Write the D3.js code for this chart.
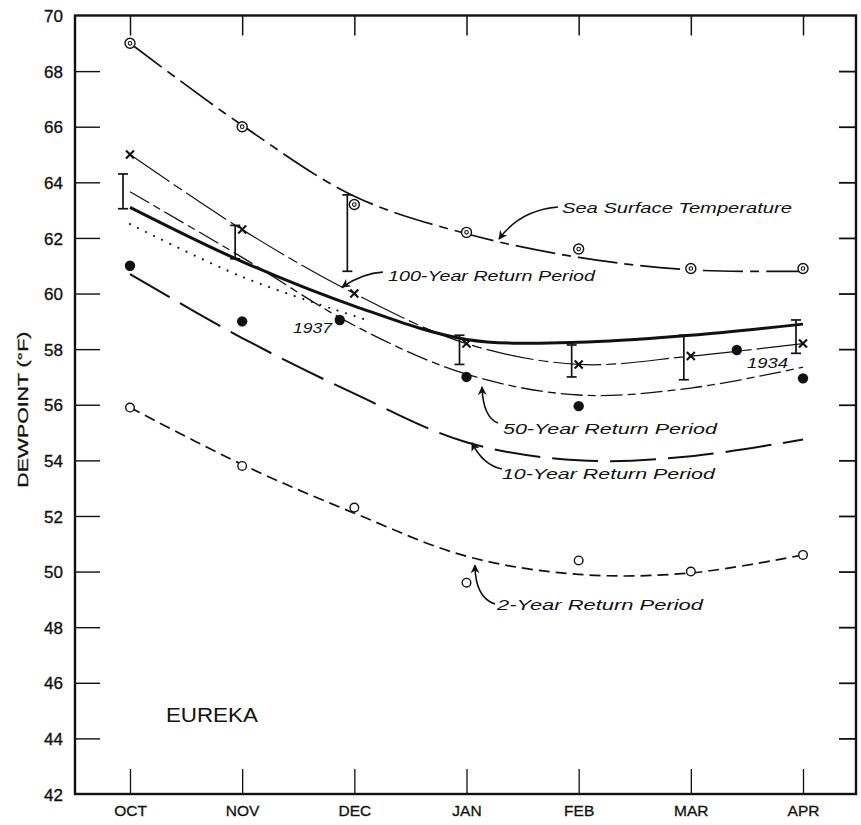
<!DOCTYPE html>
<html>
<head>
<meta charset="utf-8">
<script src="https://cdn.jsdelivr.net/npm/d3@7"></script>
<style>
  html, body { margin: 0; padding: 0; background: #fff; }
  svg { display: block; }
  .tick text { font-family: "Liberation Sans", Arial, sans-serif; fill: #111; }
</style>
</head>
<body>
<svg id="chart" width="861" height="825"></svg>
<script>
// ---------------- DATA ----------------
const months = ["OCT", "NOV", "DEC", "JAN", "FEB", "MAR", "APR"];
const yTicks = [42, 44, 46, 48, 50, 52, 54, 56, 58, 60, 62, 64, 66, 68, 70];

// Sea surface temperature: smoothed curve and observed values
const sstCurve = [69.0, 66.05, 63.5, 62.15, 61.3, 60.85, 60.8];
const sstObs   = [69.0, 66.0, 63.2, 62.2, 61.6, 60.9, 60.9];

// Return period curves
const rp100 = [63.1, 61.15, 59.55, 58.35, 58.25, 58.5, 58.9];
const rp50  = [63.66, 61.3, 58.85, 57.1, 56.35, 56.6, 57.35];
const rp10  = [60.7, 58.4, 56.4, 54.65, 54.0, 54.15, 54.75];
const rp2   = [55.9, 53.85, 52.1, 50.55, 49.9, 49.95, 50.6];

// Observed 2-year (open circles)
const obs2 = [55.9, 53.8, 52.3, 49.6, 50.4, 50.0, 50.6];

// Maximum observed (x markers)
const maxObs = [65.0, 62.3, 60.0, 58.2, 57.45, 57.75, 58.2];

// Range bars
const rangeLow  = [63.05, 61.25, 60.8, 57.45, 57.0, 56.9, 57.85];
const rangeHigh = [64.3, 62.45, 63.55, 58.5, 58.15, 58.5, 59.05];

// Filled circles (month index, value)
const filledIdx = [0, 1, 1.87, 3, 4, 5.41, 6];
const filledVal = [61.0, 59.0, 59.05, 57.0, 55.95, 57.97, 56.95];

// Dotted line (month index, value)
const dottedIdx = [0, 1, 2.11];
const dottedVal = [62.5, 60.6, 59.05];

// Text annotations
const labelTexts = ["Sea Surface Temperature", "100-Year Return Period", "50-Year Return Period",
                    "10-Year Return Period", "2-Year Return Period", "1937", "1934"];
const stationName = "EUREKA";
const yTitle = "DEWPOINT (°F)";

// ---------------- LAYOUT ----------------
const svg = d3.select("#chart");
const L = 75, R = 856, T = 15.5, B = 794;
const x = d3.scaleLinear().domain([0, 6]).range([130, 803]);
const y = d3.scaleLinear().domain([42, 70]).range([B, T]);

// label anchors in data coordinates [month index, value], arrow [start, control, tip]
const labelLayout = [
  { at: [3.851, 62.90], w: 230, arrow: [[3.816, 63.11], [3.477, 63.0], [3.290, 61.96]] },
  { at: [2.300, 60.45], w: 207, arrow: [[2.255, 60.77], [2.077, 60.74], [1.890, 60.23]] },
  { at: [3.325, 54.95], w: 214, arrow: [[3.281, 55.34], [3.147, 55.56], [3.138, 56.64]] },
  { at: [3.316, 53.33], w: 213, arrow: [[3.316, 53.69], [3.147, 53.83], [3.049, 54.63]] },
  { at: [3.272, 48.60], w: 206, arrow: [[3.254, 48.83], [3.076, 49.08], [3.076, 50.23]] },
  { at: [1.453, 58.58], w: 39, arrow: null },
  { at: [5.501, 57.32], w: 41, arrow: null }
];
const stationAt = [0.32, 44.6];

// ---------------- AXES ----------------
const fmtMonth = i => months[i];
const gLeft = svg.append("g").attr("transform", `translate(${L},0)`)
  .call(d3.axisLeft(y).tickValues(yTicks).tickSize(-25).tickPadding(12).tickFormat(d3.format("d")));
gLeft.select(".domain").remove();
gLeft.selectAll(".tick text").style("font-size", "17px").attr("dy", "0.36em")
  .attr("stroke", "#111").attr("stroke-width", 0.35);
gLeft.selectAll(".tick line").attr("stroke", "#111").attr("stroke-width", 1.4)
  .filter(d => d === 42 || d === 70).remove();

const gRight = svg.append("g").attr("transform", `translate(${R},0)`)
  .call(d3.axisRight(y).tickValues(yTicks.filter(d => d !== 42 && d !== 70)).tickSize(-17).tickFormat(""));
gRight.select(".domain").remove();
gRight.selectAll(".tick line").attr("stroke", "#111").attr("stroke-width", 1.8);

const gBottom = svg.append("g").attr("transform", `translate(0,${B})`)
  .call(d3.axisBottom(x).tickValues(d3.range(months.length)).tickSize(-25).tickPadding(11).tickFormat(fmtMonth));
gBottom.select(".domain").remove();
gBottom.selectAll(".tick text").style("font-size", "15.5px").attr("dy", "0.71em")
  .attr("stroke", "#111").attr("stroke-width", 0.3);
gBottom.selectAll(".tick line").attr("stroke", "#111").attr("stroke-width", 1.3);

const gTop = svg.append("g").attr("transform", `translate(0,${T})`)
  .call(d3.axisTop(x).tickValues(d3.range(months.length)).tickSize(-20).tickFormat(""));
gTop.select(".domain").remove();
gTop.selectAll(".tick line").attr("stroke", "#111").attr("stroke-width", 1.5);

// frame
svg.append("rect").attr("x", L).attr("y", T).attr("width", R - L).attr("height", B - T)
  .attr("fill", "none").attr("stroke", "#111").attr("stroke-width", 2.4);

// y title
svg.append("text")
  .attr("transform", `translate(28,${(T + B) / 2 + 5}) rotate(-90)`)
  .attr("text-anchor", "middle")
  .attr("textLength", 156).attr("lengthAdjust", "spacingAndGlyphs")
  .style("font-family", "Liberation Sans, Arial, sans-serif")
  .style("font-size", "14px").attr("fill", "#111")
  .attr("stroke", "#111").attr("stroke-width", 0.3)
  .text(yTitle);

// ---------------- LINES ----------------
const curve = d3.curveCatmullRom.alpha(0.5);
const lineIdx = d3.line().x((d, i) => x(i)).y(d => y(d)).curve(curve);
const linePts = d3.line().x(d => x(d[0])).y(d => y(d[1])).curve(curve);

function drawLine(data, width, dash) {
  svg.append("path").attr("d", lineIdx(data)).attr("fill", "none")
    .attr("stroke", "#111").attr("stroke-width", width)
    .attr("stroke-dasharray", dash || null);
}
drawLine(sstCurve, 1.7, "40,7,9,7");
drawLine(maxObs, 1.2, "48,5,10,5");
drawLine(rp50, 1.3, "22,5,8,5");
drawLine(rp10, 2.0, "46,12");
drawLine(rp2, 1.7, "11,6");
drawLine(rp100, 3.0, null);

svg.append("path").attr("d", linePts(dottedIdx.map((m, i) => [m, dottedVal[i]])))
  .attr("fill", "none").attr("stroke", "#111").attr("stroke-width", 2.2)
  .attr("stroke-linecap", "round").attr("stroke-dasharray", "0,9");

// ---------------- RANGE BARS ----------------
const barOff = -7, cap = 5;
const bars = svg.append("g").attr("stroke", "#111").attr("stroke-width", 1.7);
months.forEach((m, i) => {
  const bx = x(i) + barOff;
  bars.append("line").attr("x1", bx).attr("x2", bx).attr("y1", y(rangeLow[i])).attr("y2", y(rangeHigh[i]));
  bars.append("line").attr("x1", bx - cap).attr("x2", bx + cap).attr("y1", y(rangeLow[i])).attr("y2", y(rangeLow[i]));
  bars.append("line").attr("x1", bx - cap).attr("x2", bx + cap).attr("y1", y(rangeHigh[i])).attr("y2", y(rangeHigh[i]));
});

// ---------------- MARKERS ----------------
// sea surface: bullseye
const sst = svg.append("g");
sstObs.forEach((v, i) => {
  sst.append("circle").attr("cx", x(i)).attr("cy", y(v)).attr("r", 5)
    .attr("fill", "#fff").attr("stroke", "#111").attr("stroke-width", 1.4);
  sst.append("circle").attr("cx", x(i)).attr("cy", y(v)).attr("r", 1.8)
    .attr("fill", "none").attr("stroke", "#111").attr("stroke-width", 1.1);
});
// x markers
const xm = svg.append("g").attr("stroke", "#111").attr("stroke-width", 2.1);
maxObs.forEach((v, i) => {
  const cx = x(i), cy = y(v), s = 4;
  xm.append("line").attr("x1", cx - s).attr("x2", cx + s).attr("y1", cy - s).attr("y2", cy + s);
  xm.append("line").attr("x1", cx - s).attr("x2", cx + s).attr("y1", cy + s).attr("y2", cy - s);
});
// filled circles
svg.append("g").selectAll("circle").data(filledIdx).join("circle")
  .attr("cx", d => x(d)).attr("cy", (d, i) => y(filledVal[i])).attr("r", 5.2).attr("fill", "#111");
// open circles
svg.append("g").selectAll("circle").data(obs2).join("circle")
  .attr("cx", (d, i) => x(i)).attr("cy", d => y(d)).attr("r", 4.3)
  .attr("fill", "#fff").attr("stroke", "#111").attr("stroke-width", 1.4);

// ---------------- ANNOTATIONS ----------------
const defs = svg.append("defs");
defs.append("marker").attr("id", "ah").attr("viewBox", "0 0 10 10")
  .attr("refX", 9).attr("refY", 5).attr("markerWidth", 11).attr("markerHeight", 9)
  .attr("markerUnits", "userSpaceOnUse").attr("orient", "auto")
  .append("path").attr("d", "M0,0 L10,5 L0,10 L3,5 Z").attr("fill", "#111");

labelTexts.forEach((t, i) => {
  const lay = labelLayout[i];
  svg.append("text").attr("x", x(lay.at[0])).attr("y", y(lay.at[1]))
    .attr("textLength", lay.w).attr("lengthAdjust", "spacingAndGlyphs")
    .style("font-family", "Liberation Sans, Arial, sans-serif")
    .style("font-style", "italic").style("font-size", "15px").attr("fill", "#111")
    .text(t);
  if (lay.arrow) {
    const [s, c, e] = lay.arrow;
    svg.append("path")
      .attr("d", `M${x(s[0])},${y(s[1])} Q${x(c[0])},${y(c[1])} ${x(e[0])},${y(e[1])}`)
      .attr("fill", "none").attr("stroke", "#111").attr("stroke-width", 1.6)
      .attr("marker-end", "url(#ah)");
  }
});

svg.append("text").attr("x", x(stationAt[0])).attr("y", y(stationAt[1]))
  .attr("textLength", 92).attr("lengthAdjust", "spacingAndGlyphs")
  .style("font-family", "Liberation Sans, Arial, sans-serif")
  .style("font-size", "21px").attr("fill", "#111").text(stationName);
</script>
</body>
</html>
